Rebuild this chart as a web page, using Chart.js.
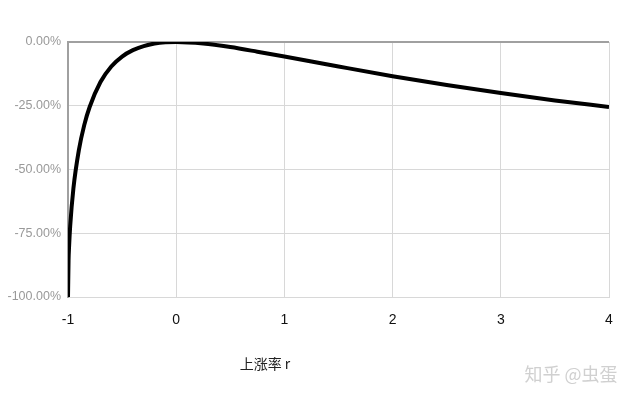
<!DOCTYPE html>
<html>
<head>
<meta charset="utf-8">
<script src="https://cdn.jsdelivr.net/npm/chart.js@4/dist/chart.umd.min.js"></script>
<style>
  html, body { margin: 0; padding: 0; background: #fff; }
  #wrap { width: 637px; height: 400px; position: relative; }
</style>
</head>
<body>
<div id="wrap"><canvas id="c"></canvas></div>
<script>
/* ---- data ---- */
const rValues = [-1, -0.995, -0.99, -0.98, -0.95, -0.9, -0.85, -0.8, -0.7, -0.6, -0.5, -0.4, -0.3, -0.2, -0.1, 0,
                 0.25, 0.5, 0.75, 1, 1.5, 2, 2.5, 3, 3.5, 4];
const lossPct = [-100, -85.9, -80.2, -72.3, -57.4, -42.5, -32.6, -25.5, -15.7, -9.6, -5.7, -3.2, -1.6, -0.6, -0.1, 0,
                 -0.6, -2.0, -3.8, -5.7, -9.6, -13.4, -16.9, -20.0, -22.9, -25.5];
const xTicks = [-1, 0, 1, 2, 3, 4];
const yTicks = [-100, -75, -50, -25, 0];
const xTitle = "上涨率 r";
const watermark = "知乎 @虫蛋";

const latinFont = "'Liberation Sans', 'Noto Sans CJK SC', sans-serif";
const cjkFont = "'Noto Sans CJK SC', 'Liberation Sans', sans-serif";

/* ---- extra text: axis title and watermark ---- */
const textPlugin = {
  id: "extraText",
  afterDraw(chart) {
    const ctx = chart.ctx;
    ctx.save();
    ctx.textBaseline = "middle";
    ctx.textAlign = "center";
    ctx.fillStyle = "#222";
    ctx.font = "14px " + cjkFont;
    ctx.fillText(xTitle, 265, 364);
    ctx.fillStyle = "#d0d0d0";
    ctx.font = "18px " + cjkFont;
    ctx.fillText(watermark, 571, 374);
    ctx.restore();
  }
};

new Chart(document.getElementById("c"), {
  type: "line",
  data: {
    datasets: [{
      data: rValues.map((r, i) => ({ x: r, y: lossPct[i] })),
      borderColor: "#000",
      borderWidth: 4,
      pointRadius: 0,
      cubicInterpolationMode: "monotone",
      fill: false
    }]
  },
  options: {
    responsive: true,
    maintainAspectRatio: false,
    animation: false,
    layout: { padding: { top: 42, right: 28, left: 0, bottom: 0 } },
    plugins: { legend: { display: false }, tooltip: { enabled: false } },
    scales: {
      x: {
        type: "linear",
        min: -1,
        max: 4,
        afterBuildTicks: s => { s.ticks = xTicks.map(v => ({ value: v })); },
        afterFit: s => { s.height = 103; },
        grid: { color: "#d8d8d8", drawTicks: false, lineWidth: 1 },
        border: { color: "#d8d8d8" },
        ticks: { color: "#111", padding: 15, font: { family: latinFont, size: 14 } }
      },
      y: {
        min: -100,
        max: 0,
        afterBuildTicks: s => { s.ticks = yTicks.map(v => ({ value: v })); },
        afterFit: s => { s.width = 68; },
        grid: {
          drawTicks: false,
          color: c => (c.tick && c.tick.value === 0 ? "#a0a0a0" : "#d8d8d8"),
          lineWidth: c => (c.tick && c.tick.value === 0 ? 2 : 1)
        },
        border: { color: "#a0a0a0", width: 2 },
        ticks: {
          color: "#999",
          padding: 7,
          font: { family: latinFont, size: 12.5 },
          callback: v => v.toFixed(2) + "%"
        }
      }
    }
  },
  plugins: [textPlugin]
});
</script>
</body>
</html>
